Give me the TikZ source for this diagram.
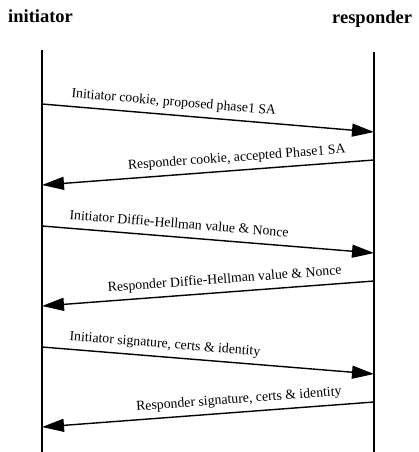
\documentclass[tikz,border=0pt]{standalone}
\usepackage{fontspec}
\setmainfont{Liberation Serif}
\usetikzlibrary{arrows.meta}
\begin{document}
\begin{tikzpicture}[x=1pt,y=-1pt,
  msg/.style={line width=1.4pt, -{Triangle[length=22pt,width=13pt]}},
  life/.style={line width=1.1pt},
  lbl/.style={font=\fontsize{13.8}{15}\selectfont, inner sep=0pt, sloped},
  lblr/.style={lbl, anchor=base west, yshift=9pt},
  lbll/.style={lbl, anchor=base east, yshift=9pt},
  ttl/.style={font=\fontsize{18.5}{20}\selectfont\bfseries, inner sep=0pt, anchor=base west}]
\useasboundingbox (0,0) rectangle (418,452);
\node[ttl] (ini) at (8,23) {initiator};
\node[ttl] (res) at (332,24) {responder};
% lifelines
\coordinate (L0) at (42,50);  \coordinate (L1) at (42,452);
\coordinate (R0) at (374,52); \coordinate (R1) at (374,452);
\draw[life] (L0) -- (L1);
\draw[life] (R0) -- (R1);
% message end points
\coordinate (a1) at (42,104);  \coordinate (b1) at (374,132);
\coordinate (a2) at (374,160); \coordinate (b2) at (42,185);
\coordinate (a3) at (42,226);  \coordinate (b3) at (374,253);
\coordinate (a4) at (374,281); \coordinate (b4) at (42,306);
\coordinate (a5) at (42,347);  \coordinate (b5) at (374,374);
\coordinate (a6) at (374,402); \coordinate (b6) at (42,427);
\draw[msg] (a1) -- node[lblr, pos=0.084] (t1) {Initiator cookie, proposed phase1 SA} (b1);
\draw[msg] (a2) -- node[lbll, pos=0.081] (t2) {Responder cookie, accepted Phase1 SA} (b2);
\draw[msg] (a3) -- node[lblr, pos=0.078] (t3) {Initiator Diffie-Hellman value \& Nonce} (b3);
\draw[msg] (a4) -- node[lbll, pos=0.093] (t4) {Responder Diffie-Hellman value \& Nonce} (b4);
\draw[msg] (a5) -- node[lblr, pos=0.078] (t5) {Initiator signature, certs \& identity} (b5);
\draw[msg] (a6) -- node[lbll, pos=0.093] (t6) {Responder signature, certs \& identity} (b6);
\end{tikzpicture}
\end{document}
